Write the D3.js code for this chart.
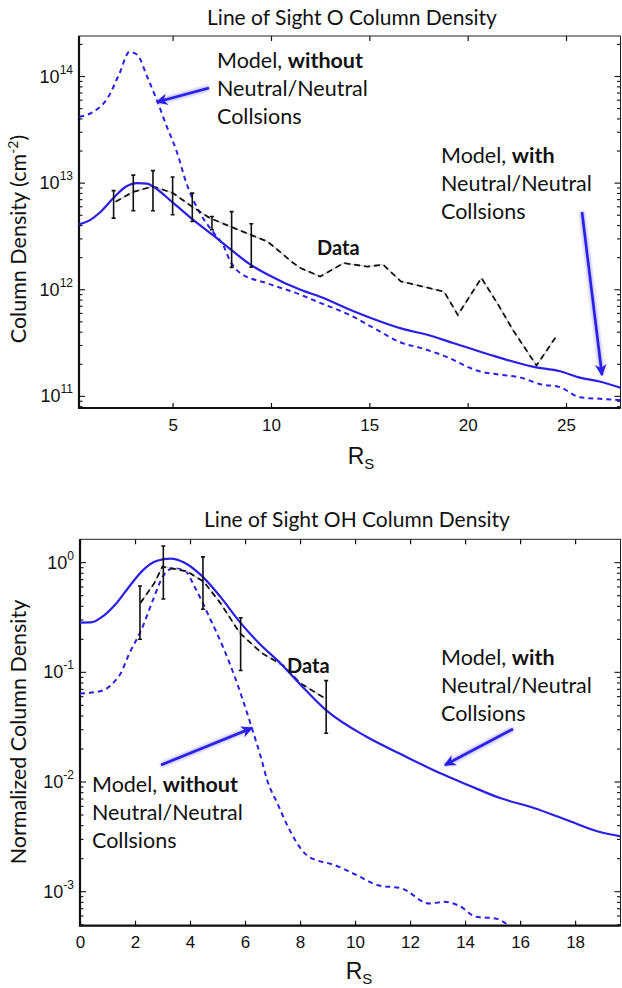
<!DOCTYPE html>
<html lang="en">
<head>
<meta charset="UTF-8">
<title>Line of Sight Column Density</title>
<script src="https://d3js.org/d3.v7.min.js"></script>
<style>
  body { margin: 0; background: #fff; }
  .tick-lbl { font-family: "Liberation Sans Narrow", "Arial Narrow", "Liberation Sans", sans-serif; fill: #111; }
  .note { font-family: Lato, "Open Sans", sans-serif; fill: #111; }
</style>
</head>
<body>
<script>
// ---- top panel: O column density (cm^-2) vs R_S
var oWith = [[0.25,4.1e12],[0.8,4.5e12],[1.3,5.3e12],[2.0,7.3e12],[2.6,9.2e12],[3.2,1.0e13],[3.7,9.9e12],
  [4.0,9.3e12],[5.0,6.6e12],[6.0,4.6e12],[7.0,3.3e12],[8.0,2.35e12],[9.0,1.7e12],[9.8,1.4e12],[11.5,1.0e12],
  [12.5,8.6e11],[14.2,6.3e11],[16.9,4.2e11],[17.9,3.8e11],[19.3,3.15e11],[21.0,2.5e11],[23.3,1.9e11],
  [24.7,1.72e11],[25.7,1.5e11],[26.7,1.38e11],[27.8,1.2e11]];
var oWithout = [[0.25,4.2e13],[1.0,4.7e13],[1.7,6.3e13],[2.3,1.07e14],[2.8,1.7e14],[3.2,1.6e14],[3.7,1.0e14],
  [4.2,6.0e13],[4.7,3.4e13],[5.2,2.0e13],[5.7,1.0e13],[6.4,5.2e12],[7.1,3.4e12],[7.6,2.55e12],[7.9,1.9e12],
  [8.4,1.45e12],[9.8,1.15e12],[11.5,9.0e11],[12.3,7.8e11],[14.0,5.8e11],[15.4,4.2e11],[16.6,3.2e11],
  [17.6,2.85e11],[18.8,2.4e11],[20.6,1.72e11],[21.6,1.6e11],[22.7,1.5e11],[23.7,1.3e11],[24.7,1.22e11],
  [25.7,9.8e10],[26.7,9.5e10],[27.8,9.2e10]];
var oData = [[2.1,6.7e12],[3.0,8.3e12],[4.0,9.3e12],[5.0,8.1e12],[6.0,6.0e12],[6.9,4.7e12],[8.1,3.8e12],
  [9.1,3.2e12],[9.8,2.85e12],[10.3,2.4e12],[11.1,1.8e12],[11.5,1.6e12],[12.5,1.33e12],[13.7,1.78e12],
  [14.9,1.65e12],[15.7,1.72e12],[16.6,1.2e12],[18.8,9.6e11],[19.5,5.8e11],[20.7,1.29e12],[21.6,7.0e11],
  [22.3,4.2e11],[23.5,1.95e11],[24.5,3.65e11]];
// error bars: [x, high, low]
var oErr = [[2,8.5e12,4.7e12],[3,1.19e13,5.5e12],[4,1.31e13,5.5e12],[5,1.14e13,5.05e12],
  [6,8.06e12,4.37e12],[7,4.87e12,3.65e12],[8,5.4e12,1.62e12],[9,4.16e12,1.63e12]];
var oXTicks = [5, 10, 15, 20, 25];
var oYExp = [11, 12, 13, 14];

// ---- bottom panel: OH normalized column density vs R_S
var ohWith = [[0,0.284],[0.4,0.285],[0.8,0.32],[1.3,0.42],[1.8,0.61],[2.3,0.86],[2.8,1.04],[3.3,1.09],
  [3.8,1.0],[4.4,0.77],[5.1,0.49],[5.8,0.29],[6.5,0.185],[7.3,0.12],[8.0,0.078],[9.0,0.044],[10.4,0.026],
  [11.6,0.0183],[13.1,0.012],[14.1,0.0094],[15.3,0.0071],[16.5,0.0058],[17.7,0.0045],[18.9,0.0035],[19.65,0.0032]];
var ohWithout = [[0,0.064],[0.8,0.068],[1.3,0.085],[1.45,0.095],[1.8,0.15],[2.2,0.235],[2.7,0.49],[3.0,0.74],
  [3.4,0.89],[3.8,0.85],[4.2,0.58],[4.7,0.32],[5.2,0.17],[5.6,0.095],[6.25,0.031],[6.6,0.016],[6.8,0.0105],
  [7.2,0.0062],[7.5,0.0042],[8.2,0.0022],[8.7,0.0019],[9.1,0.0018],[10.1,0.0014],[10.8,0.00115],[11.7,0.00107],
  [12.7,0.00078],[13.25,0.00081],[13.8,0.00074],[14.4,0.00059],[15.1,0.00057],[15.6,0.00049]];
var ohData = [[2.2,0.43],[2.7,0.65],[3.0,0.92],[3.4,0.88],[3.9,0.83],[4.5,0.67],[5.1,0.43],[5.8,0.23],
  [6.6,0.15],[7.4,0.115],[8.0,0.08],[8.9,0.058]];
var ohErr = [[2.18,0.613,0.2],[3.03,1.42,0.467],[4.47,1.13,0.376],[5.84,0.315,0.104],[8.95,0.084,0.0278]];
var ohXTicks = [0, 2, 4, 6, 8, 10, 12, 14, 16, 18];
var ohYExp = [-3, -2, -1, 0];

var blue = "#2a1fe6";

var svg = d3.select("body").append("svg")
    .attr("width", 622)
    .attr("height", 988);

var defs = svg.append("defs");
defs.append("marker").attr("id", "head")
    .attr("viewBox", "0 0 10 10").attr("refX", 9).attr("refY", 5)
    .attr("markerWidth", 4.5).attr("markerHeight", 4.5).attr("orient", "auto")
  .append("path").attr("d", "M0,0 L10,5 L0,10 L3,5 Z").attr("fill", blue);
defs.append("filter").attr("id", "glow").attr("x", "-50%").attr("y", "-50%").attr("width", "200%").attr("height", "200%")
  .append("feGaussianBlur").attr("stdDeviation", 1.6);

function panel(cfg) {
    var x = d3.scaleLinear().domain(cfg.xDom).range([cfg.left, cfg.right]);
    var y = d3.scaleLog().domain(cfg.yDom).range([cfg.bottom, cfg.top]);
    var g = svg.append("g");

    var clipId = "clip" + cfg.id;
    defs.append("clipPath").attr("id", clipId).append("rect")
        .attr("x", cfg.left).attr("y", cfg.top)
        .attr("width", cfg.right - cfg.left).attr("height", cfg.bottom - cfg.top);

    // title
    g.append("text").attr("class", "note")
        .attr("x", cfg.titleX).attr("y", cfg.titleY)
        .attr("text-anchor", "middle").style("font-size", "21px")
        .text(cfg.title);

    // x axis (ticks inside, top and bottom)
    var xb = g.append("g").attr("transform", "translate(0," + cfg.bottom + ")")
        .call(d3.axisBottom(x).tickValues(cfg.xTicks).tickSize(-5).tickPadding(cfg.xPad).tickFormat(d3.format("d")));
    xb.select(".domain").remove();
    xb.selectAll("line").attr("stroke", "#111").attr("stroke-width", 1.2);
    xb.selectAll("text").attr("class", "tick-lbl").style("font-size", "17px").attr("fill", "#111");
    var xt = g.append("g").attr("transform", "translate(0," + cfg.top + ")")
        .call(d3.axisTop(x).tickValues(cfg.xTicks).tickSize(-5).tickFormat(""));
    xt.select(".domain").remove();
    xt.selectAll("line").attr("stroke", "#111").attr("stroke-width", 1.2);

    // y ticks, major + minor, both sides
    var minor = [];
    var e0 = Math.floor(Math.log10(cfg.yDom[0])), e1 = Math.ceil(Math.log10(cfg.yDom[1]));
    for (var e = e0; e <= e1; e++) {
        for (var m = 1; m <= 9; m++) {
            var v = m * Math.pow(10, e);
            if (v >= cfg.yDom[0] && v <= cfg.yDom[1]) minor.push({v: v, major: m === 1});
        }
    }
    [cfg.left, cfg.right].forEach(function (px, side) {
        var dir = side === 0 ? 1 : -1;
        g.selectAll(null).data(minor).enter().append("line")
            .attr("x1", px).attr("x2", function (d) { return px + dir * (d.major ? 6 : 3.5); })
            .attr("y1", function (d) { return y(d.v); }).attr("y2", function (d) { return y(d.v); })
            .attr("stroke", "#111").attr("stroke-width", 1.1);
    });
    var yl = g.selectAll(null).data(cfg.yExp).enter().append("text")
        .attr("class", "tick-lbl")
        .attr("y", function (d) { return y(Math.pow(10, d)) + 6; })
        .style("font-size", "18px");
    yl.append("tspan").text("10");
    yl.append("tspan").attr("dy", -9).style("font-size", "12px")
        .text(function (d) { return d < 0 ? "-" + Math.abs(d) : String(d); });
    // place so the superscript ends near the axis
    yl.each(function () {
        var w = this.getComputedTextLength();
        d3.select(this).attr("x", cfg.left - 6 - w);
    });

    // frame
    g.append("rect").attr("x", cfg.left).attr("y", cfg.top)
        .attr("width", cfg.right - cfg.left).attr("height", cfg.bottom - cfg.top)
        .attr("fill", "none").attr("stroke", "#222").attr("stroke-width", 1);
    g.append("path")
        .attr("d", "M" + cfg.left + "," + cfg.top + "V" + cfg.bottom + "H" + cfg.right)
        .attr("fill", "none").attr("stroke", "#111").attr("stroke-width", 2.2);

    // axis labels
    var xl = g.append("text").attr("class", "tick-lbl")
        .attr("x", cfg.xLabX).attr("y", cfg.xLabY).attr("text-anchor", "middle")
        .style("font-size", "23px");
    xl.append("tspan").text("R");
    xl.append("tspan").attr("dy", 5).style("font-size", "15px").text("S");

    var ylab = g.append("text").attr("class", "note")
        .attr("transform", "translate(26," + cfg.yLabY + ") rotate(-90)")
        .attr("text-anchor", "middle").style("font-size", "21.5px");
    cfg.yLab(ylab);

    // series
    var line = d3.line().x(function (d) { return x(d[0]); }).y(function (d) { return y(d[1]); });
    var smooth = d3.line().curve(d3.curveMonotoneX).x(function (d) { return x(d[0]); }).y(function (d) { return y(d[1]); });
    var plot = g.append("g").attr("clip-path", "url(#" + clipId + ")");

    plot.append("path").datum(cfg.without).attr("d", smooth)
        .attr("fill", "none").attr("stroke", blue).attr("stroke-width", 2).attr("stroke-dasharray", "5,4");
    plot.append("path").datum(cfg.data).attr("d", line)
        .attr("fill", "none").attr("stroke", "#bbb").attr("stroke-width", 1);
    plot.append("path").datum(cfg.data).attr("d", line)
        .attr("fill", "none").attr("stroke", "#111").attr("stroke-width", 1.8).attr("stroke-dasharray", "6,4");
    plot.append("path").datum(cfg.with).attr("d", smooth)
        .attr("fill", "none").attr("stroke", blue).attr("stroke-width", 2.2);

    var eb = plot.selectAll(null).data(cfg.err).enter().append("g").attr("stroke", "#111").attr("stroke-width", 1.6);
    eb.append("line").attr("x1", function (d) { return x(d[0]); }).attr("x2", function (d) { return x(d[0]); })
        .attr("y1", function (d) { return y(d[1]); }).attr("y2", function (d) { return y(d[2]); });
    eb.append("line").attr("x1", function (d) { return x(d[0]) - 2; }).attr("x2", function (d) { return x(d[0]) + 2; })
        .attr("y1", function (d) { return y(d[1]); }).attr("y2", function (d) { return y(d[1]); });
    eb.append("line").attr("x1", function (d) { return x(d[0]) - 2; }).attr("x2", function (d) { return x(d[0]) + 2; })
        .attr("y1", function (d) { return y(d[2]); }).attr("y2", function (d) { return y(d[2]); });

    // annotations
    cfg.notes.forEach(function (n) {
        n.lines.forEach(function (ln, i) {
            var t = g.append("text").attr("class", "note")
                .attr("x", n.x).attr("y", n.y + i * 28).style("font-size", "21.5px");
            ln.forEach(function (part) {
                t.append("tspan").style("font-weight", part[1] ? "bold" : "normal").text(part[0]);
            });
        });
    });
    g.append("text").attr("class", "note").attr("x", cfg.dataLab[0]).attr("y", cfg.dataLab[1])
        .style("font-size", "20px").style("font-weight", "bold").text("Data");

    cfg.arrows.forEach(function (a) {
        g.append("line").attr("x1", a[0]).attr("y1", a[1]).attr("x2", a[2]).attr("y2", a[3])
            .attr("stroke", "#8a86f0").attr("stroke-width", 5).attr("opacity", 0.6).attr("filter", "url(#glow)");
        g.append("line").attr("x1", a[0]).attr("y1", a[1]).attr("x2", a[2]).attr("y2", a[3])
            .attr("stroke", blue).attr("stroke-width", 2.6).attr("marker-end", "url(#head)");
    });
}

var withoutNote = [[["Model, ", false], ["without", true]], [["Neutral/Neutral", false]], [["Collsions", false]]];
var withNote = [[["Model, ", false], ["with", true]], [["Neutral/Neutral", false]], [["Collsions", false]]];

panel({
    id: "O", left: 79, right: 620.5, top: 36, bottom: 408,
    xDom: [0.24, 27.77], yDom: [Math.pow(10, 10.891), Math.pow(10, 14.38)],
    xTicks: oXTicks, yExp: oYExp, xPad: 11,
    title: "Line of Sight O Column Density", titleX: 352, titleY: 25,
    xLabX: 361, xLabY: 464, yLabY: 239,
    yLab: function (t) {
        t.append("tspan").text("Column Density (cm");
        t.append("tspan").attr("dy", -8).style("font-size", "14px").text("-2");
        t.append("tspan").attr("dy", 8).text(")");
    },
    with: oWith, without: oWithout, data: oData, err: oErr,
    notes: [{x: 217, y: 68, lines: withoutNote}, {x: 441, y: 163, lines: withNote}],
    dataLab: [317, 255],
    arrows: [[209, 88, 157, 102], [582, 212, 602, 375]]
});

panel({
    id: "OH", left: 80, right: 620.5, top: 539.3, bottom: 925.7,
    xDom: [0, 19.65], yDom: [Math.pow(10, -3.31), Math.pow(10, 0.213)],
    xTicks: ohXTicks, yExp: ohYExp, xPad: 10,
    title: "Line of Sight OH Column Density", titleX: 357, titleY: 527,
    xLabX: 359, xLabY: 979, yLabY: 732,
    yLab: function (t) { t.text("Normalized Column Density"); },
    with: ohWith, without: ohWithout, data: ohData, err: ohErr,
    notes: [{x: 92, y: 792, lines: withoutNote}, {x: 441, y: 665, lines: withNote}],
    dataLab: [287, 673],
    arrows: [[161, 765, 252, 728], [513, 729, 445, 765]]
});
</script>
</body>
</html>
